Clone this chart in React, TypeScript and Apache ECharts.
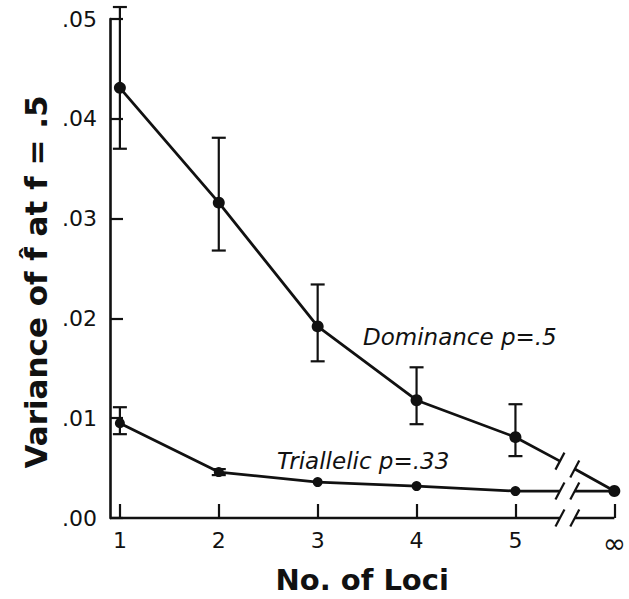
import React, { useEffect, useRef } from 'react';
import * as echarts from 'echarts';

// ---- data ----
const lociPositions = [1, 2, 3, 4, 5, 6];
const lociLabels = ['1', '2', '3', '4', '5', '∞'];
const yTickValues = [0, 0.01, 0.02, 0.03, 0.04, 0.05];

const dominanceMean = [0.0431, 0.0316, 0.0192, 0.0118, 0.0081, 0.0027];
const dominanceLow = [0.037, 0.0268, 0.0157, 0.0094, 0.0062, null];
const dominanceHigh = [0.0512, 0.0381, 0.0234, 0.0151, 0.0114, null];
const dominanceBreakEnds = [
  [5.45, 0.0057],
  [5.6, 0.0049],
];

const triallelicMean = [0.0095, 0.0046, 0.0036, 0.0032, 0.0027, 0.0027];
const triallelicLow = [0.0084, 0.0043, null, null, null, null];
const triallelicHigh = [0.0111, 0.0049, null, null, null, null];
const triallelicBreakEnds = [
  [5.45, 0.0027],
  [5.6, 0.0027],
];

const axisBreakEnds = [
  [5.45, 0],
  [5.6, 0],
];

const X_MIN = 0.9;
const X_MAX = 6;
const INK = '#111';
const FONT = '"DejaVu Sans", sans-serif';

function brokenLine(mean: number[], ends: number[][]) {
  const pts: any[] = lociPositions.slice(0, 5).map((x, i) => [x, mean[i]]);
  return [
    ...pts,
    { value: ends[0], symbol: 'none' },
    [(ends[0][0] + ends[1][0]) / 2, '-'],
    { value: ends[1], symbol: 'none' },
    [lociPositions[5], mean[5]],
  ];
}

function errorData(low: (number | null)[], high: (number | null)[]) {
  const out: number[][] = [];
  lociPositions.forEach((x, i) => {
    if (low[i] != null && high[i] != null) out.push([x, low[i] as number, high[i] as number]);
  });
  return out;
}

const errorRender = (params: any, api: any) => {
  const x = api.value(0);
  const lo = api.coord([x, api.value(1)]);
  const hi = api.coord([x, api.value(2)]);
  const w = 7;
  const style = { stroke: INK, lineWidth: 2.2 };
  return {
    type: 'group',
    children: [
      { type: 'line', shape: { x1: lo[0], y1: lo[1], x2: hi[0], y2: hi[1] }, style },
      { type: 'line', shape: { x1: lo[0] - w, y1: lo[1], x2: lo[0] + w, y2: lo[1] }, style },
      { type: 'line', shape: { x1: hi[0] - w, y1: hi[1], x2: hi[0] + w, y2: hi[1] }, style },
    ],
  };
};

const slashRender = (params: any, api: any) => {
  const p = api.coord([api.value(0), api.value(1)]);
  return {
    type: 'line',
    shape: { x1: p[0] - 4.5, y1: p[1] + 8.5, x2: p[0] + 4.5, y2: p[1] - 8.5 },
    style: { stroke: INK, lineWidth: 2.2 },
  };
};

export default function App() {
  const ref = useRef<HTMLDivElement>(null);

  useEffect(() => {
    if (!ref.current) return;
    document.body.style.margin = '0';
    document.body.style.overflow = 'hidden';
    const chart = echarts.init(ref.current, null, { renderer: 'svg' });
    const option: any = {
      animation: false,
      backgroundColor: '#fff',
      grid: { left: 110, right: 8, top: 19, bottom: 80 },
      xAxis: {
        type: 'value',
        min: X_MIN,
        max: X_MAX,
        name: 'No. of Loci',
        nameLocation: 'middle',
        nameGap: 47,
        nameTextStyle: { fontFamily: FONT, fontSize: 29, fontWeight: 'bold', color: INK },
        axisLine: { show: false },
        axisTick: {
          show: true,
          inside: true,
          length: 14,
          customValues: lociPositions,
          lineStyle: { color: INK, width: 2.2 },
        },
        axisLabel: {
          show: true,
          margin: 11,
          customValues: lociPositions,
          formatter: (v: number) => {
            const lab = lociLabels[lociPositions.indexOf(Math.round(v))] ?? '';
            return lab === '∞' ? '{inf|∞}' : lab;
          },
          rich: { inf: { fontFamily: FONT, fontSize: 28, color: INK } },
          fontFamily: FONT,
          fontSize: 22,
          color: INK,
        },
        splitLine: { show: false },
      },
      yAxis: {
        type: 'value',
        min: 0,
        max: 0.05,
        interval: 0.01,
        axisLine: { show: true, lineStyle: { color: INK, width: 2.6 } },
        axisTick: {
          show: true,
          inside: true,
          length: 13,
          customValues: yTickValues,
          lineStyle: { color: INK, width: 2.2 },
        },
        axisLabel: {
          margin: 13,
          formatter: (v: number) => v.toFixed(2).replace(/^0/, ''),
          fontFamily: FONT,
          fontSize: 22,
          color: INK,
        },
        splitLine: { show: false },
      },
      graphic: [
        {
          type: 'text',
          x: 36,
          y: 282,
          rotation: Math.PI / 2,
          style: {
            text: 'Variance of f\u0302 at f = .5',
            font: `bold 31px ${FONT}`,
            fill: INK,
            align: 'center',
            verticalAlign: 'middle',
          },
        },
        {
          type: 'text',
          x: 363,
          y: 337,
          style: {
            text: 'Dominance p=.5',
            font: `italic 23px ${FONT}`,
            fill: INK,
            align: 'left',
            verticalAlign: 'middle',
          },
        },
        {
          type: 'text',
          x: 277,
          y: 461,
          style: {
            text: 'Triallelic p=.33',
            font: `italic 23px ${FONT}`,
            fill: INK,
            align: 'left',
            verticalAlign: 'middle',
          },
        },
      ],
      series: [
        {
          name: 'x-axis line',
          type: 'line',
          data: [
            [X_MIN, 0],
            axisBreakEnds[0],
            [(axisBreakEnds[0][0] + axisBreakEnds[1][0]) / 2, '-'],
            axisBreakEnds[1],
            [X_MAX, 0],
          ],
          showSymbol: false,
          clip: false,
          connectNulls: false,
          lineStyle: { color: INK, width: 2.6 },
          silent: true,
        },
        {
          name: 'Dominance p=.5',
          type: 'line',
          data: brokenLine(dominanceMean, dominanceBreakEnds),
          symbol: 'circle',
          symbolSize: 12,
          clip: false,
          connectNulls: false,
          itemStyle: { color: INK },
          lineStyle: { color: INK, width: 2.8 },
        },
        {
          name: 'Triallelic p=.33',
          type: 'line',
          data: brokenLine(triallelicMean, triallelicBreakEnds),
          symbol: 'circle',
          symbolSize: 10,
          clip: false,
          connectNulls: false,
          itemStyle: { color: INK },
          lineStyle: { color: INK, width: 2.8 },
        },
        {
          name: 'Dominance error',
          type: 'custom',
          renderItem: errorRender,
          data: errorData(dominanceLow, dominanceHigh),
          encode: { x: 0, y: [1, 2] },
          clip: false,
        },
        {
          name: 'Triallelic error',
          type: 'custom',
          renderItem: errorRender,
          data: errorData(triallelicLow, triallelicHigh),
          encode: { x: 0, y: [1, 2] },
          clip: false,
        },
        {
          name: 'breaks',
          type: 'custom',
          renderItem: slashRender,
          data: [...dominanceBreakEnds, ...triallelicBreakEnds, ...axisBreakEnds],
          encode: { x: 0, y: 1 },
          clip: false,
        },
      ],
    };
    chart.setOption(option);
    return () => chart.dispose();
  }, []);

  return (
    <div
      ref={ref}
      style={{ position: 'fixed', left: 0, top: 0, width: 629, height: 599, background: '#fff', overflow: 'hidden' }}
    />
  );
}
